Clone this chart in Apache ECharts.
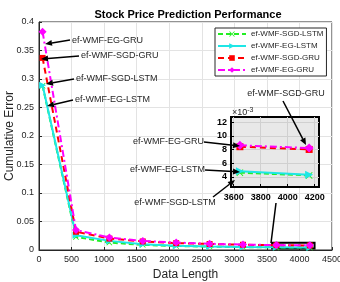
<!DOCTYPE html>
<html>
<head>
<meta charset="utf-8">
<script src="https://cdn.jsdelivr.net/npm/echarts@6/dist/echarts.min.js"></script>
<style>
  html, body { margin: 0; padding: 0; background: #fff; }
  #main { width: 340px; height: 282px; }
</style>
</head>
<body>
<div id="main"></div>
<script>
const dataLength = [55, 568, 1081, 1594, 2107, 2620, 3133, 3646, 4159];
const sgdLstm = [0.288, 0.023, 0.013, 0.009, 0.007, 0.006, 0.0051, 0.0046, 0.0042];
const egLstm = [0.289, 0.026, 0.016, 0.010, 0.0075, 0.0062, 0.0053, 0.0048, 0.0043];
const sgdGru = [0.337, 0.032, 0.020, 0.015, 0.012, 0.0105, 0.0092, 0.0084, 0.0080];
const egGru = [0.383, 0.035, 0.022, 0.016, 0.013, 0.011, 0.0095, 0.0086, 0.0082];
const xTicks = [0, 4500, 500];
const insetX = [3580, 4232];
const insetY = [0.0025, 0.01275];
const insetXTicks = [3600, 3800, 4000, 4200];
const insetYTicks = [0.004, 0.006, 0.008, 0.010, 0.012];

const font = 'Liberation Sans, Arial, sans-serif';
const txt = '#262626';

const seriesDefs = [
  {name: 'ef-WMF-SGD-LSTM', data: sgdLstm, color: '#22ee22', type: [5, 3], symbol: 'path://M0,1L1,0L5,4L9,0L10,1L6,5L10,9L9,10L5,6L1,10L0,9L4,5Z', size: 6},
  {name: 'ef-WMF-EG-LSTM', data: egLstm, color: '#1ee6e6', type: 'solid', symbol: 'path://M0,0L10,5L0,10Z', size: 7},
  {name: 'ef-WMF-SGD-GRU', data: sgdGru, color: '#ff0000', type: [6, 4], symbol: 'rect', size: 6},
  {name: 'ef-WMF-EG-GRU', data: egGru, color: '#ff00ff', type: [7, 3, 2, 3], symbol: 'diamond', size: 8}
];

function pairs(ys, from) {
  return dataLength.slice(from).map((x, i) => [x, ys[from + i]]);
}

const series = [];
seriesDefs.forEach((s, k) => {
  series.push({
    name: s.name, type: 'line', xAxisIndex: 0, yAxisIndex: 0,
    data: pairs(s.data, 0),
    symbol: s.symbol, symbolSize: s.size, showAllSymbol: true,
    lineStyle: {color: s.color, width: 2, type: s.type},
    itemStyle: {color: s.color},
    z: 3 + k,
    markArea: k === 0 ? {
      silent: true,
      itemStyle: {color: 'rgba(0,0,0,0)', borderColor: '#000', borderWidth: 2},
      data: [[{coord: [insetX[0], insetY[0]]}, {coord: [insetX[1], insetY[1]]}]]
    } : undefined
  });
  series.push({
    name: s.name, type: 'line', xAxisIndex: 1, yAxisIndex: 1,
    data: pairs(s.data, dataLength.length - 2),
    symbol: s.symbol, symbolSize: s.size + 1, showAllSymbol: true,
    lineStyle: {color: s.color, width: 2, type: s.type},
    itemStyle: {color: s.color},
    z: 13 + k
  });
});

function arrow(x1, y1, x2, y2) {
  const a = Math.atan2(y2 - y1, x2 - x1), L = 7, W = 3;
  const bx = x2 - L * Math.cos(a), by = y2 - L * Math.sin(a);
  return [
    {type: 'line', z: 30, shape: {x1: x1, y1: y1, x2: bx, y2: by}, style: {stroke: '#000', lineWidth: 1.5}},
    {type: 'polygon', z: 30, shape: {points: [[x2, y2], [bx + W * Math.sin(a), by - W * Math.cos(a)], [bx - W * Math.sin(a), by + W * Math.cos(a)]]}, style: {fill: '#000'}}
  ];
}
function label(text, x, y, align) {
  return {type: 'text', z: 30, x: x, y: y, style: {text: text, fill: txt, font: '9px ' + font, align: align || 'left', verticalAlign: 'middle'}};
}

const graphics = [].concat(
  label('ef-WMF-EG-GRU', 72, 41), arrow(70, 40, 45, 44),
  label('ef-WMF-SGD-GRU', 81, 56), arrow(79, 56, 41, 59),
  label('ef-WMF-SGD-LSTM', 76, 79), arrow(74, 79, 46, 84),
  label('ef-WMF-EG-LSTM', 75, 100), arrow(73, 100, 47, 106),
  label('ef-WMF-SGD-GRU', 286, 94, 'center'), arrow(283, 101, 306, 145),
  label('ef-WMF-EG-GRU', 204, 142, 'right'), arrow(204, 142, 240, 146),
  label('ef-WMF-EG-LSTM', 205, 170, 'right'), arrow(205, 170, 240, 172),
  label('ef-WMF-SGD-LSTM', 175, 203, 'center'), arrow(213, 197, 235, 180),
  [{type: 'line', z: 30, shape: {x1: 276, y1: 203, x2: 271, y2: 243}, style: {stroke: '#000', lineWidth: 1.5}}],
  [{type: 'text', z: 30, x: 232, y: 113, style: {
    text: '{a|×10}{b|-3}', verticalAlign: 'middle',
    rich: {a: {font: '9px ' + font, fill: txt}, b: {font: '7px ' + font, fill: txt, verticalAlign: 'top', padding: [0, 0, 6, 0]}}
  }}],
  // y axis title
  [{type: 'text', z: 30, x: 10, y: 136, rotation: Math.PI / 2, style: {
    text: 'Cumulative Error', fill: txt, font: '12px ' + font, align: 'center', verticalAlign: 'middle'
  }}]
);

const chart = echarts.init(document.getElementById('main'), null, {renderer: 'canvas'});
chart.setOption({
  animation: false,
  backgroundColor: '#fff',
  textStyle: {fontFamily: font},
  title: {
    text: 'Stock Price Prediction Performance', left: 183, top: 4, textAlign: 'center',
    textStyle: {fontSize: 11, fontWeight: 'bold', color: '#000', fontFamily: font}
  },
  legend: {
    left: 215, top: 28, orient: 'vertical',
    data: seriesDefs.map(s => s.name),
    itemWidth: 28, itemHeight: 7, itemGap: 4,
    padding: [2, 3, 2, 2],
    borderColor: '#262626', borderWidth: 1, backgroundColor: '#fff',
    textStyle: {fontSize: 8, color: txt, fontFamily: font}
  },
  grid: [
    {left: 39, right: 8, top: 22, bottom: 32, outerBoundsMode: 'none', containLabel: false,
      show: true, borderColor: '#262626', borderWidth: 1, backgroundColor: '#fff'},
    {left: 231, top: 117, width: 88, height: 70, outerBoundsMode: 'none', containLabel: false,
      show: true, borderColor: '#000', borderWidth: 2, backgroundColor: '#e8e8e8', z: 5}
  ],
  xAxis: [
    {
      type: 'value', gridIndex: 0, min: xTicks[0], max: xTicks[1], interval: xTicks[2],
      name: 'Data Length', nameLocation: 'middle', nameGap: 18,
      nameTextStyle: {fontSize: 12, color: txt},
      axisLine: {lineStyle: {color: '#262626'}},
      axisTick: {inside: true, length: 3, lineStyle: {color: '#262626'}},
      axisLabel: {fontSize: 9, color: txt, margin: 5, formatter: v => String(v)},
      splitLine: {lineStyle: {color: '#e3e3e3'}}
    },
    {
      type: 'value', gridIndex: 1, min: insetX[0], max: insetX[1], z: 6,
      axisLine: {lineStyle: {color: '#000', width: 2}},
      axisTick: {inside: true, length: 3, customValues: insetXTicks, lineStyle: {color: '#000'}},
      axisLabel: {fontSize: 9, fontWeight: 'bold', color: '#000', margin: 6, customValues: insetXTicks,
        formatter: v => String(v)},
      splitLine: {lineStyle: {color: '#d0d0d0'}}
    }
  ],
  yAxis: [
    {
      type: 'value', gridIndex: 0, min: 0, max: 0.4, interval: 0.05,
      axisLine: {show: true, lineStyle: {color: '#262626'}},
      axisTick: {show: true, inside: true, length: 3, lineStyle: {color: '#262626'}},
      axisLabel: {fontSize: 9, color: txt, margin: 5, formatter: v => String(+v.toFixed(2))},
      splitLine: {lineStyle: {color: '#e3e3e3'}}
    },
    {
      type: 'value', gridIndex: 1, min: insetY[0], max: insetY[1], z: 6,
      axisLine: {show: true, lineStyle: {color: '#000', width: 2}},
      axisTick: {show: true, inside: true, length: 3, customValues: insetYTicks, lineStyle: {color: '#000'}},
      axisLabel: {fontSize: 9, fontWeight: 'bold', color: '#000', margin: 4, customValues: insetYTicks,
        formatter: v => String(Math.round(v * 1000))},
      splitLine: {lineStyle: {color: '#d0d0d0'}}
    }
  ],
  series: series,
  graphic: graphics
});
</script>
</body>
</html>
